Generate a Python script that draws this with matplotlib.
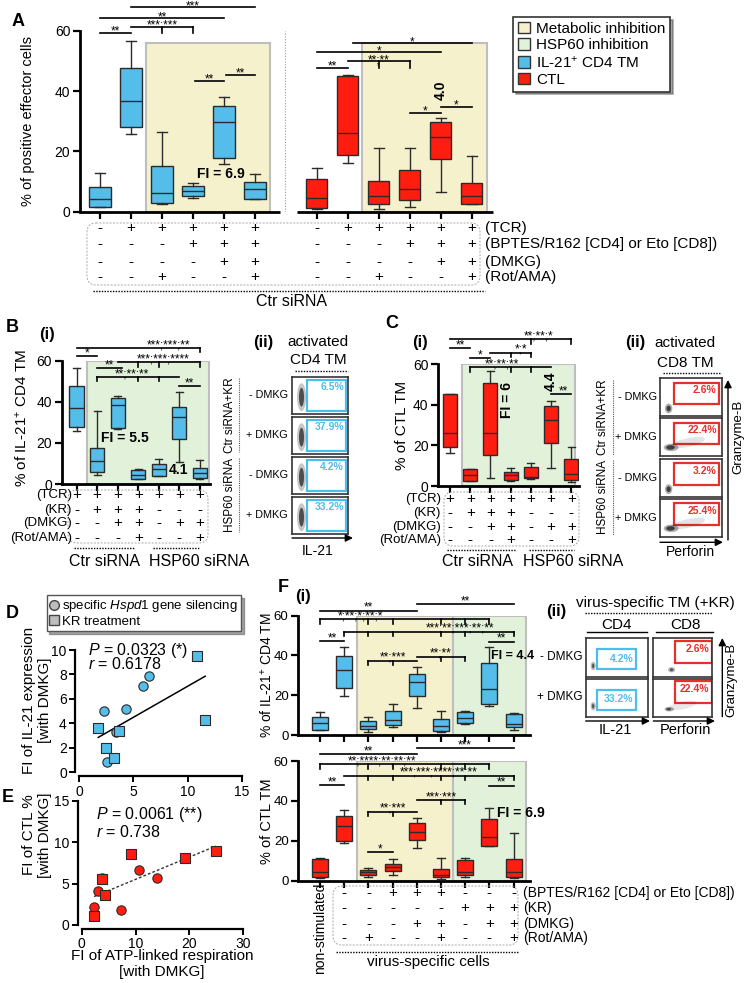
import numpy as np
import matplotlib.pyplot as plt
from matplotlib.patches import Rectangle, FancyBboxPatch, Ellipse, Patch
from matplotlib.lines import Line2D

plt.rcParams['font.family'] = ['Liberation Sans', 'DejaVu Sans']
plt.rcParams['mathtext.fontset'] = 'custom'
plt.rcParams['mathtext.rm'] = 'Liberation Sans'
plt.rcParams['mathtext.it'] = 'Liberation Sans:italic'

W, H = 748, 983
BLUE = '#55BDEA'
RED = '#FF1D0F'
EDGE = '#2b2b2b'
YELLOW = '#F6F1CD'
GREEN = '#E2F2DA'
SHADE_EDGE = '#BEBEBE'
GATE_BLUE = '#4DBDEB'
GATE_RED = '#E8302A'

# ---------------- data ----------------
# box stats: whisker low, q1, median, q3, whisker high
# A - IL-21+ CD4 TM
a_cd4_lo = [1.4, 25.6, 2.4, 4.4, 15.7, 4.1]
a_cd4_q1 = [1.7, 28.0, 2.8, 5.3, 17.7, 4.3]
a_cd4_med = [4.1, 36.8, 6.3, 7.0, 29.9, 7.4]
a_cd4_q3 = [8.1, 47.7, 15.2, 8.6, 34.9, 9.7]
a_cd4_hi = [12.9, 56.7, 26.4, 9.6, 38.0, 12.4]
# A - CTL
a_ctl_lo = [0.8, 16.2, 0.8, 1.6, 6.4, 2.5]
a_ctl_q1 = [1.1, 18.8, 2.4, 3.9, 17.4, 2.5]
a_ctl_med = [4.4, 26.0, 5.3, 7.5, 24.9, 5.3]
a_ctl_q3 = [10.7, 44.9, 10.2, 13.8, 29.8, 9.4]
a_ctl_hi = [14.6, 45.3, 21.2, 21.1, 31.0, 18.6]
# B(i) - IL-21+ CD4 TM
b_lo = [25.8, 4.4, 26.6, 2.3, 4.1, 10.9, 2.3]
b_q1 = [27.6, 5.7, 27.4, 2.3, 4.1, 21.9, 2.8]
b_med = [36.8, 11.4, 38.4, 4.4, 7.1, 32.4, 5.2]
b_q3 = [47.8, 17.7, 41.7, 6.6, 9.6, 37.6, 7.6]
b_hi = [56.6, 35.5, 42.8, 7.1, 12.2, 44.6, 11.8]
# C(i) - CTL TM
c_lo = [16.4, 2.5, 4.1, 2.5, 3.4, 8.7, 1.8]
c_q1 = [19.3, 2.5, 15.2, 3.0, 3.8, 21.0, 3.0]
c_med = [26.2, 5.4, 26.2, 5.4, 4.6, 32.5, 5.7]
c_q3 = [45.1, 8.4, 50.5, 7.0, 9.5, 39.3, 13.3]
c_hi = [45.2, 8.4, 56.7, 8.7, 11.1, 41.8, 19.3]
# F(i) - IL-21+ CD4 TM, virus-specific
f_cd4_lo = [2.5, 19.6, 1.3, 4.2, 13.4, 1.7, 5.5, 14.6, 2.5]
f_cd4_q1 = [2.5, 23.8, 2.8, 5.0, 19.8, 2.2, 6.2, 15.4, 3.9]
f_cd4_med = [6.2, 32.7, 4.7, 7.5, 26.5, 4.7, 8.7, 23.0, 5.4]
f_cd4_q3 = [8.9, 39.9, 7.0, 12.2, 30.5, 8.0, 11.4, 36.0, 10.4]
f_cd4_hi = [11.4, 44.4, 8.9, 15.6, 34.0, 12.1, 12.1, 44.4, 11.2]
# F(i) - CTL TM, virus-specific
f_ctl_lo = [1.2, 18.7, 1.7, 2.7, 16.5, 0.8, 2.0, 17.5, 1.2]
f_ctl_q1 = [2.0, 19.9, 2.7, 4.8, 20.2, 1.8, 2.7, 17.5, 2.0]
f_ctl_med = [4.2, 27.6, 4.2, 6.7, 24.2, 2.8, 4.2, 22.1, 4.2]
f_ctl_q3 = [10.9, 32.6, 5.3, 8.4, 28.7, 6.0, 10.2, 30.8, 10.9]
f_ctl_hi = [11.2, 35.4, 6.5, 10.9, 31.3, 11.5, 11.5, 36.6, 23.7]

# D / E correlations
d_circ_x = [2.31, 2.52, 3.38, 4.28, 5.85, 6.46]
d_circ_y = [4.99, 0.88, 3.29, 5.15, 7.07, 7.86]
d_sq_x = [1.75, 2.46, 3.23, 3.66, 10.83, 11.63]
d_sq_y = [3.64, 1.97, 1.18, 3.37, 9.51, 4.25]
e_circ_x = [2.35, 3.09, 3.83, 7.22, 10.6, 13.9]
e_circ_y = [2.2, 4.12, 5.68, 1.8, 6.68, 5.72]
e_sq_x = [2.28, 3.77, 4.32, 9.07, 19.1, 24.9]
e_sq_y = [1.08, 5.52, 3.56, 8.52, 8.12, 8.92]

# treatment tables
a_tcr = '-+++++-+++++'
a_bptes = '---+++---+++'
a_dmkg = '----++----++'
a_rot = '--+--+--+--+'
bc_tcr = '+++++++'
bc_kr = '-+++---'
bc_dmkg = '--++-++'
bc_rot = '---+--+'
f_bptes = '--+++---'
f_kr = '-----+++'
f_dmkg = '---++-++'
f_rot = '-+--+--+'

# flow percentages
b_flow_pct = ['6.5%', '37.9%', '4.2%', '33.2%']
c_flow_pct = ['2.6%', '22.4%', '3.2%', '25.4%']
f_flow_cd4 = ['4.2%', '33.2%']
f_flow_cd8 = ['2.6%', '22.4%']

# ---------------- helpers ----------------
fig = plt.figure(figsize=(W / 100, H / 100), dpi=100)


def add_ax(rect):
    l, t, r, b = rect
    return fig.add_axes([l / W, 1 - b / H, (r - l) / W, (b - t) / H])


def box_axes(rect, xlim, ticks, labelsize=10):
    ax = add_ax(rect)
    ax.set_xlim(*xlim)
    ax.set_ylim(0, 60)
    ax.set_yticks([0, 20, 40, 60])
    ax.set_xticks(ticks)
    ax.spines[['top', 'right']].set_visible(False)
    ax.spines['left'].set_linewidth(2)
    ax.spines['bottom'].set_linewidth(2)
    ax.tick_params(axis='y', length=5, width=1.6, labelsize=labelsize, pad=2)
    ax.tick_params(axis='x', length=5, width=1.6, labelbottom=False)
    ax.patch.set_visible(False)
    return ax


def boxes(ax, lo, q1, med, q3, hi, pos, color, width=0.68):
    stats = [dict(whislo=a, q1=b, med=c, q3=d, whishi=e, fliers=[])
             for a, b, c, d, e in zip(lo, q1, med, q3, hi)]
    lp = dict(color=EDGE, linewidth=1.0)
    ax.bxp(stats, positions=pos, widths=width, capwidths=width * 0.5,
           patch_artist=True, showfliers=False, manage_ticks=False,
           boxprops=dict(facecolor=color, edgecolor=EDGE, linewidth=1.0),
           medianprops=lp, whiskerprops=lp, capprops=lp, zorder=3)


def shade(ax, x0, x1, color, top=60):
    ax.add_patch(Rectangle((x0, 0), x1 - x0, top, facecolor=color,
                           edgecolor=SHADE_EDGE, lw=1.5, zorder=0.5))


def sig(ax, x1, x2, y, label, ticks=(), tx=None, drop=2.2, fs=8.5):
    ax.plot([x1, x2], [y, y], color='k', lw=1.2, clip_on=False, zorder=4)
    for t in ticks:
        ax.plot([t, t], [y, y - drop], color='k', lw=1.2, clip_on=False, zorder=4)
    if tx is None:
        tx = (x1 + x2) / 2
    ax.text(tx, y - 1.6, label, ha='center', va='bottom', fontsize=fs,
            clip_on=False, zorder=4)


def sign_rows(ax, rect, positions, rows, ys, fs=11):
    l, t, r, b = rect
    for signs, ypx in zip(rows, ys):
        yf = (b - ypx) / (b - t)
        for p, s in zip(positions, signs):
            ax.text(p, yf, s, transform=ax.get_xaxis_transform(), ha='center',
                    va='center', fontsize=fs, clip_on=False)


def flow(rect, color, pct, gate, blobs, tpos):
    ax = add_ax(rect)
    ax.set_xlim(0, 1)
    ax.set_ylim(0, 1)
    ax.set_xticks([])
    ax.set_yticks([])
    for s in ax.spines.values():
        s.set_linewidth(1.2)
        s.set_color('#333333')
    gx0, gy0, gx1, gy1 = gate
    ax.add_patch(Rectangle((gx0, gy0), gx1 - gx0, gy1 - gy0, fill=False,
                           edgecolor=color, lw=1.6))
    ax.text(tpos[0], tpos[1], pct, ha='right', va='top', color=color,
            fontsize=7.5, fontweight='bold')
    for cx, cy, w, h, ang, a in blobs:
        ax.add_patch(Ellipse((cx, cy), w, h, angle=ang, facecolor='#1a1a1a',
                             alpha=a, lw=0))
    return ax


# ---------------- panel A ----------------
rect_a = (80, 30.7, 493, 211.7)
ax = box_axes(rect_a, (-0.645, 12.68), list(range(6)) + list(range(7, 13)))
ax.spines['bottom'].set_visible(False)
ax.hlines(0, -0.645, 5.8, color='k', lw=2, clip_on=False)
ax.hlines(0, 6.35, 12.68, color='k', lw=2, clip_on=False)
ax.vlines(5.97, 0, 60, colors='#9a9a9a', linestyles=(0, (1, 1.5)), lw=0.8)
shade(ax, 1.5, 5.5, YELLOW, 56)
shade(ax, 8.45, 12.5, YELLOW, 56)
boxes(ax, a_cd4_lo, a_cd4_q1, a_cd4_med, a_cd4_q3, a_cd4_hi, range(6), BLUE)
boxes(ax, a_ctl_lo, a_ctl_q1, a_ctl_med, a_ctl_q3, a_ctl_hi, range(7, 13), RED)
sig(ax, 0, 1, 59.3, '**')
sig(ax, 1, 3, 61.3, '***;***', ticks=[2, 3])
sig(ax, 0, 4, 64.1, '**')
sig(ax, 1, 5, 67.8, '***')
sig(ax, 3.07, 4, 43.3, '**')
sig(ax, 4.05, 5, 45.3, '**')
sig(ax, 7, 8, 47.8, '**')
sig(ax, 8, 10, 49.8, '**;**', ticks=[9, 10])
sig(ax, 7, 11, 52.9, '*')
sig(ax, 8.15, 12, 55.8, '*')
sig(ax, 10, 11, 32.8, '*')
sig(ax, 11, 12, 34.8, '*')
ax.text(11, 40.3, '4.0', rotation=90, ha='center', va='center', fontsize=10,
        fontweight='bold')
ax.text(3.9, 12.4, 'FI = 6.9', ha='center', va='center', fontsize=10,
        fontweight='bold')
sign_rows(ax, rect_a, list(range(6)) + list(range(7, 13)),
          [a_tcr, a_bptes, a_dmkg, a_rot], [228, 244, 262, 277])

# ---------------- panel B ----------------
rect_b = (61.7, 360.7, 210, 484)
ax = box_axes(rect_b, (-0.73, 6.5), range(7))
shade(ax, 0.52, 6.47, GREEN)
boxes(ax, b_lo, b_q1, b_med, b_q3, b_hi, range(7), BLUE, 0.7)
sig(ax, 0, 1, 62.4, '*')
sig(ax, 0, 6, 66.3, '***;***;**', ticks=[6], tx=4.5)
sig(ax, 2, 6, 59.2, '***;***;****', ticks=[3, 4, 6], tx=4.2)
sig(ax, 1, 2.2, 56.3, '**')
sig(ax, 1, 5, 52.2, '**;**;**', ticks=[1, 3, 4], tx=2.7)
sig(ax, 5, 6, 47.7, '**')
ax.text(2.33, 22.5, 'FI = 5.5', ha='center', va='center', fontsize=10,
        fontweight='bold')
ax.text(4.95, 6.8, '4.1', ha='center', va='center', fontsize=10,
        fontweight='bold')
sign_rows(ax, rect_b, range(7), [bc_tcr, bc_kr, bc_dmkg, bc_rot],
          [495, 510, 523, 538])

# ---------------- panel C ----------------
rect_c = (438.3, 364, 579.3, 486)
ax = box_axes(rect_c, (-0.58, 6.4), range(7))
shade(ax, 0.57, 6.2, GREEN)
boxes(ax, c_lo, c_q1, c_med, c_q3, c_hi, range(7), RED, 0.7)
sig(ax, 0, 1, 68.0, '**')
sig(ax, 0, 6, 72.1, '**;**;*', ticks=[4, 6], tx=4.4)
sig(ax, 1, 2, 62.8, '*')
sig(ax, 2, 4, 65.6, '*;*', ticks=[3, 4], tx=3.5)
sig(ax, 1, 5, 58.4, '**;**;**', ticks=[1, 3, 4], tx=2.55)
sig(ax, 5, 6, 45.1, '**', tx=5.6)
ax.text(5.0, 51.3, '4.4', rotation=90, ha='center', va='center', fontsize=10,
        fontweight='bold')
ax.text(2.8, 42.3, 'FI = 6', rotation=90, ha='center', va='center',
        fontsize=10, fontweight='bold')
sign_rows(ax, rect_c, range(7), [bc_tcr, bc_kr, bc_dmkg, bc_rot],
          [499, 513, 527, 540])

# ---------------- panel F(i) ----------------
rect_f1 = (298.3, 615.7, 530, 735)
ax = box_axes(rect_f1, (-0.9, 8.68), range(9), labelsize=9.5)
shade(ax, 1.52, 5.5, YELLOW)
shade(ax, 5.5, 8.5, GREEN)
boxes(ax, f_cd4_lo, f_cd4_q1, f_cd4_med, f_cd4_q3, f_cd4_hi, range(9), BLUE, 0.66)
sig(ax, 0, 4, 62.5, '**')
sig(ax, 4, 8, 65.7, '**')
sig(ax, 0, 7, 58.2, '*;**;*;**;*', ticks=[0, 2, 3, 5, 6, 7], tx=1.66)
sig(ax, 1, 8, 52.0, '***;**;***;**;**', ticks=[1, 2, 3, 5, 6, 8], tx=5.77)
sig(ax, 0, 1, 47.3, '**')
sig(ax, 7, 8, 46.9, '**')
sig(ax, 2, 4, 37.4, '**;***', ticks=[2, 3], tx=3)
sig(ax, 4, 6, 39.4, '**;**', ticks=[5, 6], tx=5)
ax.text(7.05, 39.7, 'FI = 4.4', ha='left', va='center', fontsize=9,
        fontweight='bold', clip_on=False)

rect_f2 = (298.3, 761, 530, 880.7)
ax = box_axes(rect_f2, (-0.9, 8.68), range(9), labelsize=9.5)
shade(ax, 1.52, 5.5, YELLOW)
shade(ax, 5.5, 8.5, GREEN)
boxes(ax, f_ctl_lo, f_ctl_q1, f_ctl_med, f_ctl_q3, f_ctl_hi, range(9), RED, 0.66)
sig(ax, 0, 4, 63.3, '**')
sig(ax, 4, 8, 66.4, '***')
sig(ax, 0, 7, 58.3, '**;****;**;**;**', ticks=[0, 2, 3, 5, 6, 7], tx=2.55)
sig(ax, 1, 8, 52.6, '***;***;****;**;**', ticks=[2, 3, 5, 6, 8], tx=4.9)
sig(ax, 0, 1, 48.0, '**')
sig(ax, 7, 8, 47.6, '**')
sig(ax, 4, 6, 40.4, '***;***', ticks=[5, 6], tx=5)
sig(ax, 2, 4, 34.6, '**;***', ticks=[2, 3], tx=3)
sig(ax, 2, 3, 14.2, '*')
ax.text(7.3, 34.1, 'FI = 6.9', ha='left', va='center', fontsize=10,
        fontweight='bold', clip_on=False)
sign_rows(ax, rect_f2, range(1, 9), [f_bptes, f_kr, f_dmkg, f_rot],
          [893, 908, 924, 938])


# ---------------- panels D / E ----------------
def scatter_axes(rect, xlim, ylim, xticks, yticks):
    ax = add_ax(rect)
    ax.set_xlim(*xlim)
    ax.set_ylim(*ylim)
    ax.set_xticks(xticks)
    ax.set_yticks(yticks)
    ax.spines[['top', 'right']].set_visible(False)
    for s in ('left', 'bottom'):
        ax.spines[s].set_linewidth(1.6)
        ax.spines[s].set_position(('outward', 3))
    ax.tick_params(length=4, width=1.4, labelsize=10, pad=2)
    ax.patch.set_visible(False)
    return ax


ax = scatter_axes((79.3, 650, 241.7, 772.3), (0, 15), (0, 10),
                  [0, 5, 10, 15], [0, 2, 4, 6, 8, 10])
xs = np.array(d_circ_x + d_sq_x)
ys = np.array(d_circ_y + d_sq_y)
k, c0 = np.polyfit(xs, ys, 1)
xl = np.array([xs.min(), xs.max()])
ax.plot(xl, k * xl + c0, color='k', lw=1.1)
ax.scatter(d_circ_x, d_circ_y, s=45, marker='o', color=BLUE, edgecolor=EDGE,
           lw=0.8, zorder=3, clip_on=False)
ax.scatter(d_sq_x, d_sq_y, s=45, marker='s', color=BLUE, edgecolor=EDGE,
           lw=0.8, zorder=3, clip_on=False)

ax = scatter_axes((81.7, 800.7, 243.3, 925), (0, 30), (0, 15),
                  [0, 10, 20, 30], [0, 5, 10, 15])
xs = np.array(e_circ_x + e_sq_x)
ys = np.array(e_circ_y + e_sq_y)
k, c0 = np.polyfit(xs, ys, 1)
xl = np.array([xs.min(), xs.max()])
ax.plot(xl, k * xl + c0, color='#333333', lw=1.0, ls=(0, (2, 1.5)))
ax.scatter(e_circ_x, e_circ_y, s=45, marker='o', color=RED, edgecolor=EDGE,
           lw=0.8, zorder=3, clip_on=False)
ax.scatter(e_sq_x, e_sq_y, s=45, marker='s', color=RED, edgecolor=EDGE,
           lw=0.8, zorder=3, clip_on=False)

# ---------------- flow panels ----------------
b_rows = [(376.7, 414), (416.7, 454), (456.7, 494), (496.7, 534)]
big_blob = [(0.17, 0.45, 0.16, 0.75, 0, 0.25), (0.17, 0.45, 0.09, 0.5, 0, 0.7)]
for (t, b), pct in zip(b_rows, b_flow_pct):
    flow((292, t, 348, b), GATE_BLUE, pct, (0.26, 0.08, 0.97, 0.92), big_blob,
         (0.93, 0.86))

c_rows = [(378.3, 416), (418.3, 455.7), (459, 496.7), (499, 536.7)]
c_blobs = [
    [(0.14, 0.2, 0.12, 0.26, 0, 0.35), (0.14, 0.2, 0.07, 0.15, 0, 0.75)],
    [(0.45, 0.35, 0.6, 0.22, 22, 0.12), (0.18, 0.22, 0.24, 0.2, 0, 0.35),
     (0.17, 0.22, 0.14, 0.12, 0, 0.75)],
    [(0.14, 0.2, 0.12, 0.26, 0, 0.35), (0.14, 0.2, 0.07, 0.15, 0, 0.75)],
    [(0.45, 0.35, 0.6, 0.22, 22, 0.12), (0.18, 0.22, 0.24, 0.2, 0, 0.35),
     (0.17, 0.22, 0.14, 0.12, 0, 0.75)],
]
for (t, b), pct, bl in zip(c_rows, c_flow_pct, c_blobs):
    flow((660, t, 721.7, b), GATE_RED, pct, (0.22, 0.32, 0.95, 0.885), bl,
         (0.92, 0.82))

f_rows = [(638.3, 676.7), (679, 716.7)]
cd4_blob = [(0.12, 0.28, 0.08, 0.22, 0, 0.3), (0.12, 0.28, 0.04, 0.12, 0, 0.6)]
cd8_blobs = [
    [(0.31, 0.18, 0.12, 0.14, 0, 0.3), (0.31, 0.18, 0.06, 0.08, 0, 0.6)],
    [(0.5, 0.3, 0.5, 0.2, 20, 0.1), (0.27, 0.2, 0.16, 0.12, 0, 0.35),
     (0.26, 0.2, 0.08, 0.07, 0, 0.7)],
]
for (t, b), p4, p8, bl in zip(f_rows, f_flow_cd4, f_flow_cd8, cd8_blobs):
    flow((585.7, t, 647.7, b), GATE_BLUE, p4, (0.18, 0.19, 0.81, 0.71),
         cd4_blob, (0.77, 0.6))
    flow((653.3, t, 712.3, b), GATE_RED, p8, (0.37, 0.36, 0.99, 0.94), bl,
         (0.95, 0.86))

# ---------------- overlay for labels and decorations ----------------
ov = fig.add_axes([0, 0, 1, 1], zorder=10)
ov.set_xlim(0, W)
ov.set_ylim(H, 0)
ov.axis('off')
ov.patch.set_visible(False)


def T(x, y, s, **kw):
    kw.setdefault('ha', 'center')
    kw.setdefault('va', 'center')
    kw.setdefault('fontsize', 11)
    ov.text(x, y, s, **kw)


def rbox(x0, y0, x1, y1):
    ov.add_patch(FancyBboxPatch((x0, y0), x1 - x0, y1 - y0,
                                boxstyle='round,pad=0,rounding_size=9',
                                fill=False, edgecolor='#a8a8a8', lw=0.7,
                                ls=(0, (2, 1.5))))


def dots(x0, x1, y):
    ov.plot([x0, x1], [y, y], color='k', lw=1.0, ls=(0, (1, 1)))


def vdots(x, y0, y1):
    ov.plot([x, x], [y0, y1], color='#555555', lw=0.8, ls=(0, (1, 1)))


def arrow(x0, y0, x1, y1):
    ov.annotate('', xy=(x1, y1), xytext=(x0, y0),
                arrowprops=dict(arrowstyle='-|>', color='k', lw=1.0,
                                mutation_scale=11, shrinkA=0, shrinkB=0))


bold = dict(fontweight='bold')

# A
T(18, 22, 'A', fontsize=13, **bold)
T(28, 121, '% of positive effector cells', rotation=90, fontsize=10.5)
rbox(87, 223, 480, 285)
for lab, y in zip(['(TCR)', '(BPTES/R162 [CD4] or Eto [CD8])', '(DMKG)', '(Rot/AMA)'],
                  [228, 244, 262, 277]):
    T(485, y, lab, ha='left', fontsize=11)
dots(93, 485, 290.7)
T(292, 302, 'Ctr siRNA', fontsize=11.5)
leg_a = ov.legend(handles=[Patch(facecolor=YELLOW, edgecolor='#333333', label='Metabolic inhibition'),
                           Patch(facecolor=GREEN, edgecolor='#333333', label='HSP60 inhibition'),
                           Patch(facecolor=BLUE, edgecolor='#333333', label='IL-21$^{+}$ CD4 TM'),
                           Patch(facecolor=RED, edgecolor='#333333', label='CTL')],
                  loc='upper left', bbox_to_anchor=(513, 17), bbox_transform=ov.transData,
                  borderaxespad=0, fontsize=11, frameon=True, fancybox=False,
                  shadow=True, handlelength=0.8, handleheight=0.8,
                  handletextpad=0.4, labelspacing=0.15, borderpad=0.3)
leg_a.get_frame().set_edgecolor('#333333')
leg_a.get_frame().set_linewidth(1.2)

# B
T(12, 327, 'B', fontsize=13, **bold)
T(47, 335, '(i)', fontsize=12, **bold)
T(22, 418, '% of IL-21$^{+}$ CD4 TM', rotation=90, fontsize=11)
rbox(68, 490, 208, 543)
for lab, y in zip(['(TCR)', '(KR)', '(DMKG)', '(Rot/AMA)'], [495, 510, 523, 538]):
    T(72, y, lab, ha='right', fontsize=9.5)
dots(74, 135, 548)
dots(153, 200, 548)
T(105, 561, 'Ctr siRNA', fontsize=11.5)
T(199, 561, 'HSP60 siRNA', fontsize=11.5)
T(263, 342, '(ii)', fontsize=12, **bold)
T(318, 342, 'activated', fontsize=11)
T(318, 360, 'CD4 TM', fontsize=11)
dots(295, 348, 371)
for (t, b), lab in zip(b_rows, ['- DMKG', '+ DMKG', '- DMKG', '+ DMKG']):
    T(288, (t + b) / 2, lab, ha='right', fontsize=7.8)
T(230, 415, 'Ctr siRNA+KR', rotation=90, fontsize=8.5)
T(230, 495, 'HSP60 siRNA', rotation=90, fontsize=8.5)
vdots(239, 378, 452)
vdots(239, 458, 532)
arrow(292, 538, 353, 538)
T(318, 551, 'IL-21', fontsize=10)

# C
T(392, 323, 'C', fontsize=13, **bold)
T(420, 343, '(i)', fontsize=12, **bold)
T(402, 425, '% of CTL TM', rotation=90, fontsize=11)
rbox(444, 492, 579, 546)
for lab, y in zip(['(TCR)', '(KR)', '(DMKG)', '(Rot/AMA)'], [499, 513, 527, 540]):
    T(441, y, lab, ha='right', fontsize=9.5)
dots(447, 515, 550)
dots(529, 574, 550)
T(478, 562, 'Ctr siRNA', fontsize=11.5)
T(573, 562, 'HSP60 siRNA', fontsize=11.5)
T(635, 343, '(ii)', fontsize=12, **bold)
T(685, 343, 'activated', fontsize=11)
T(685, 363, 'CD8 TM', fontsize=11)
dots(663, 720, 373.3)
for (t, b), lab in zip(c_rows, ['- DMKG', '+ DMKG', '- DMKG', '+ DMKG']):
    T(656.7, (t + b) / 2, lab, ha='right', fontsize=7.8)
T(603, 417, 'Ctr siRNA+KR', rotation=90, fontsize=8.5)
T(603, 497, 'HSP60 siRNA', rotation=90, fontsize=8.5)
vdots(612.7, 380, 455)
vdots(612.7, 460, 535)
arrow(660, 542.3, 723, 542.3)
T(690, 552, 'Perforin', fontsize=10)
arrow(728, 540, 728, 380)
T(738, 437, 'Granzyme-B', rotation=90, fontsize=9.5)

# D
T(12, 613, 'D', fontsize=13, **bold)
leg_d = ov.legend(handles=[Line2D([], [], marker='o', ls='none', markersize=7,
                                  markerfacecolor='#bdbdbd', markeredgecolor='#444444',
                                  label='specific $\\mathit{Hspd1}$ gene silencing'),
                           Line2D([], [], marker='s', ls='none', markersize=6.5,
                                  markerfacecolor='#bdbdbd', markeredgecolor='#444444',
                                  label='KR treatment')],
                  loc='upper left', bbox_to_anchor=(46.7, 595), bbox_transform=ov.transData,
                  borderaxespad=0, fontsize=9.5, frameon=True, fancybox=False,
                  shadow=True, handlelength=0.6, handletextpad=0.3,
                  labelspacing=0.1, borderpad=0.25)
leg_d.get_frame().set_edgecolor('#555555')
leg_d.get_frame().set_linewidth(1.0)
ov.add_artist(leg_a)
T(37, 700, 'FI of IL-21 expression\n[with DMKG]', rotation=90, fontsize=11,
  linespacing=1.1)
T(88, 650, '$P$ = 0.0323 (*)', ha='left', fontsize=11.5)
T(88, 664, '$r$ = 0.6178', ha='left', fontsize=11.5)

# E
T(8, 797, 'E', fontsize=13, **bold)
T(37, 835, 'FI of CTL %\n[with DMKG]', rotation=90, fontsize=11,
  linespacing=1.1)
T(162, 964, 'FI of ATP-linked respiration\n[with DMKG]', fontsize=11,
  linespacing=1.1)
T(96, 814, '$P$ = 0.0061 (**)', ha='left', fontsize=11.5)
T(96, 832, '$r$ = 0.738', ha='left', fontsize=11.5)

# F
T(283, 588, 'F', fontsize=13, **bold)
T(303, 597, '(i)', fontsize=12, **bold)
T(267, 675, '% of IL-21$^{+}$ CD4 TM', rotation=90, fontsize=10)
T(267, 821, '% of CTL TM', rotation=90, fontsize=10.5)
T(320, 928, 'non-stimulated', rotation=90, fontsize=10)
rbox(333, 886, 518, 945)
for lab, y in zip(['(BPTES/R162 [CD4] or Eto [CD8])', '(KR)', '(DMKG)', '(Rot/AMA)'],
                  [893, 908, 924, 938]):
    T(522.7, y, lab, ha='left', fontsize=10)
dots(336, 518, 952.3)
T(428, 962, 'virus-specific cells', fontsize=11)
T(556.7, 611.7, '(ii)', fontsize=12, **bold)
T(655, 603.3, 'virus-specific TM (+KR)', fontsize=11)
dots(585, 711.7, 613.3)
T(616.7, 625, 'CD4', fontsize=11)
T(685.7, 625, 'CD8', fontsize=11)
ov.plot([586.7, 647.3], [631.7, 631.7], color='k', lw=1.0)
ov.plot([656, 713.3], [631.7, 631.7], color='k', lw=1.0)
T(582.3, 656.7, '- DMKG', ha='right', fontsize=8.5)
T(582.3, 697.3, '+ DMKG', ha='right', fontsize=8.5)
arrow(585.7, 721, 650, 721)
arrow(653.3, 721, 715, 721)
T(615, 730, 'IL-21', fontsize=10.5)
T(685, 730, 'Perforin', fontsize=10.5)
arrow(722.3, 716.7, 722.3, 638)
T(731, 680, 'Granzyme-B', rotation=90, fontsize=9.5)

fig.savefig('out.png', dpi=100, facecolor='white')
